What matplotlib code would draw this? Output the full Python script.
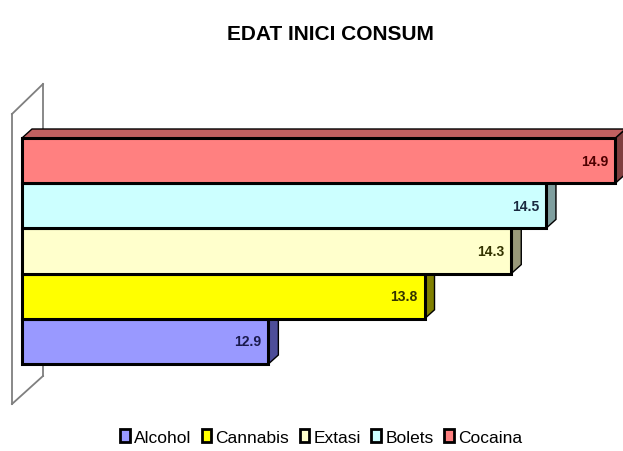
import matplotlib.pyplot as plt
from matplotlib.patches import Polygon, Patch
from matplotlib.lines import Line2D

categories = ["Alcohol", "Cannabis", "Extasi", "Bolets", "Cocaina"]
values = [12.9, 13.8, 14.3, 14.5, 14.9]
face_colors = ["#9999FF", "#FFFF00", "#FFFFCC", "#CCFFFF", "#FF8080"]
side_colors = ["#4D4D99", "#808000", "#99997A", "#7F9F9F", "#803F3F"]
top_colors = ["#7070C0", "#C0C000", "#C0C099", "#99C0C0", "#C06060"]
label_colors = ["#1A1A4D", "#333300", "#333300", "#1A2A40", "#4D0000"]

W, H = 623, 452
fig = plt.figure(figsize=(W / 100, H / 100), dpi=100)

# axes placed so that the front faces of the bars land where the reference has them
ax_left, ax_right = 22, 623
ax_top, ax_bot = 139, 365
ax = fig.add_axes([ax_left / W, 1 - ax_bot / H, (ax_right - ax_left) / W, (ax_bot - ax_top) / H])
xmin = 11.48
px_per_unit = 173.5
ax.set_xlim(xmin, xmin + (ax_right - ax_left) / px_per_unit)
ax.set_ylim(-0.5, len(values) - 0.5)
ax.axis("off")

# 3D depth (pixels -> data units)
dx = 10 / px_per_unit
dy = 9 / ((ax_bot - ax_top) / len(values))

fam = ["Liberation Sans Narrow", "Liberation Sans", "DejaVu Sans"]

for i, (v, fc, sc, tc, lc) in enumerate(zip(values, face_colors, side_colors, top_colors, label_colors)):
    z = 2 + i * 3
    y0, y1 = i - 0.5, i + 0.5
    side = Polygon([(v, y0), (v + dx, y0 + dy), (v + dx, y1 + dy), (v, y1)],
                   facecolor=sc, edgecolor="black", lw=1.0, zorder=z, clip_on=False)
    top = Polygon([(xmin, y1), (xmin + dx, y1 + dy), (v + dx, y1 + dy), (v, y1)],
                  facecolor=tc, edgecolor="black", lw=1.0, zorder=z, clip_on=False)
    ax.add_patch(side)
    ax.add_patch(top)
    ax.barh(i, v - xmin, left=xmin, height=1.0, color=fc, edgecolor="black",
            linewidth=2.2, zorder=z + 1, clip_on=False)
    ax.text(v - 7 / px_per_unit, i, f"{v:.1f}", ha="right", va="center",
            fontsize=10, fontweight="bold", color=lc, zorder=z + 2, family=fam)

# back wall outline
def fx(px):
    return px / W

def fy(py):
    return 1 - py / H

wall = [
    [(12, 115), (12, 405)],
    [(12, 115), (43, 85)],
    [(43, 85), (43, 132)],
    [(43, 367), (43, 377)],
    [(43, 377), (12, 405)],
]
for seg in wall:
    fig.add_artist(Line2D([fx(p[0]) for p in seg], [fy(p[1]) for p in seg],
                          transform=fig.transFigure, color="#7F7F7F", lw=1.3, zorder=0))

fig.text(fx(330), fy(34), "EDAT INICI CONSUM", ha="center", va="center",
         fontsize=15, fontweight="bold", family=fam)

handles = [Patch(facecolor=c, edgecolor="black", lw=2) for c in face_colors]
fig.legend(handles, categories, loc="center", bbox_to_anchor=(fx(321), fy(438)),
           ncol=5, frameon=False, handlelength=0.55, handleheight=0.75,
           handletextpad=0.25, columnspacing=0.6,
           prop={"family": ["Liberation Sans", "DejaVu Sans"], "size": 12.5})

fig.savefig("out.png", dpi=100)
